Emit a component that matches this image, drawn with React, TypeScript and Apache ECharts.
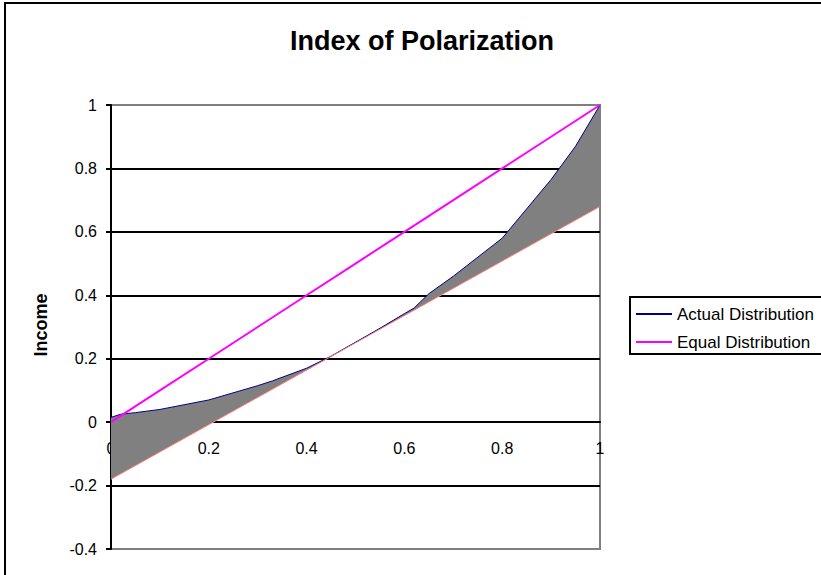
import React, { useEffect, useRef } from "react";
import * as echarts from "echarts";

const titleText = "Index of Polarization";
const yAxisName = "Income";

const actualX = [0, 0.02, 0.05, 0.1, 0.2, 0.3, 0.33, 0.4, 0.45, 0.5, 0.55, 0.6, 0.62, 0.65, 0.7, 0.8, 0.9, 0.95, 1];
const actualY = [0.015, 0.025, 0.03, 0.04, 0.07, 0.115, 0.13, 0.17, 0.208, 0.252, 0.296, 0.342, 0.36, 0.405, 0.46, 0.58, 0.765, 0.87, 1.0];

const redX = [0, 1];
const redY = [-0.18, 0.68];

const equalX = [0, 0.1, 0.2, 0.3, 0.4, 0.5, 0.6, 0.7, 0.8, 0.9, 1];
const equalY = [0, 0.1, 0.2, 0.3, 0.4, 0.5, 0.6, 0.7, 0.8, 0.9, 1];

const Y_MIN = -0.4;
const Y_MAX = 1;

const FONT = "'Liberation Sans', Arial, sans-serif";

export default function App() {
  const ref = useRef<HTMLDivElement>(null);
  useEffect(() => {
    if (!ref.current) return;
    const chart = echarts.init(ref.current, null, { renderer: "svg" });
    const zip = (xs: number[], ys: number[]) => xs.map((x, i) => [x, ys[i]]);
    const gridTop = 105;
    const gridBottomY = 549;
    const h = chart.getHeight();
    const gridBottom = h - gridBottomY;
    const gridH = gridBottomY - gridTop;
    const xOffset = -gridH * ((0 - Y_MIN) / (Y_MAX - Y_MIN));
    chart.setOption({
      animation: false,
      backgroundColor: "#fff",
      textStyle: { fontFamily: FONT },
      grid: {
        left: 111,
        right: 221,
        top: gridTop,
        bottom: gridBottom,
        show: true,
        borderColor: "#808080",
        borderWidth: 2,
        backgroundColor: "transparent",
      },
      legend: {
        data: ["Actual Distribution", "Equal Distribution"],
        orient: "vertical",
        left: 636,
        top: 304,
        padding: 0,
        itemWidth: 36,
        itemHeight: 2,
        itemGap: 8,
        icon: "rect",
        textStyle: { fontSize: 17, color: "#000", fontFamily: FONT, lineHeight: 20 },
      },
      xAxis: {
        type: "value",
        min: 0,
        max: 1,
        interval: 0.2,
        position: "bottom",
        offset: xOffset,
        axisLine: { onZero: false, lineStyle: { color: "#000", width: 2 } },
        axisTick: { show: false },
        splitLine: { show: false },
        axisLabel: {
          showMinLabel: true,
          showMaxLabel: true,
          margin: 18,
          fontSize: 16,
          color: "#000",
          fontFamily: FONT,
        },
      },
      yAxis: {
        type: "value",
        min: Y_MIN,
        max: Y_MAX,
        interval: 0.2,
        axisLine: { show: true, onZero: false, lineStyle: { color: "#000", width: 2 } },
        axisTick: { show: true, length: 5, lineStyle: { color: "#000", width: 2 } },
        splitLine: {
          show: true,
          showMinLine: false,
          showMaxLine: false,
          lineStyle: { color: "#000", width: 2 },
        },
        axisLabel: { margin: 14, fontSize: 16, color: "#000", fontFamily: FONT },
      },
      graphic: [
        {
          type: "rect",
          shape: { x: 5, y: 3, width: 830, height: 600 },
          style: { fill: "none", stroke: "#000", lineWidth: 2 },
          silent: true,
          z: 100,
        },
        {
          type: "rect",
          shape: { x: 630, y: 297, width: 200, height: 57 },
          style: { fill: "none", stroke: "#000", lineWidth: 2 },
          silent: true,
          z: 100,
        },
        {
          type: "text",
          x: 422,
          y: 41,
          style: {
            text: titleText,
            fontSize: 27,
            fontWeight: "bold",
            fontFamily: FONT,
            fill: "#000",
            align: "center",
            verticalAlign: "middle",
          },
        },
        {
          type: "text",
          x: 41,
          y: 325,
          rotation: Math.PI / 2,
          style: {
            text: yAxisName,
            fontSize: 18,
            fontWeight: "bold",
            fontFamily: FONT,
            fill: "#000",
            align: "center",
            verticalAlign: "middle",
          },
        },
      ],
      series: [
        {
          name: "Actual Distribution",
          type: "line",
          data: zip(actualX, actualY),
          showSymbol: false,
          symbol: "none",
          color: "#000080",
          lineStyle: { color: "#000080", width: 1 },
        },
        {
          name: "Gap",
          type: "custom",
          coordinateSystem: "cartesian2d",
          data: [[0, 0]],
          renderItem: (_params: any, api: any) => {
            const pts: number[][] = [];
            for (let i = 0; i < actualX.length; i++) pts.push(api.coord([actualX[i], actualY[i]]));
            for (let i = redX.length - 1; i >= 0; i--) pts.push(api.coord([redX[i], redY[i]]));
            return {
              type: "polygon",
              shape: { points: pts },
              style: { fill: "#808080", stroke: "none" },
            };
          },
        },
        {
          name: "Trend",
          type: "line",
          data: zip(redX, redY),
          showSymbol: false,
          symbol: "none",
          color: "#FF8080",
          lineStyle: { color: "#FF8080", width: 1 },
        },
        {
          name: "Equal Distribution",
          type: "line",
          data: zip(equalX, equalY),
          showSymbol: false,
          symbol: "none",
          color: "#FF00FF",
          lineStyle: { color: "#FF00FF", width: 2 },
        },
      ],
    });
    return () => chart.dispose();
  }, []);
  return (
    <div
      ref={ref}
      style={{ position: "fixed", left: 0, top: 0, width: 821, height: 575, background: "#fff" }}
    />
  );
}
